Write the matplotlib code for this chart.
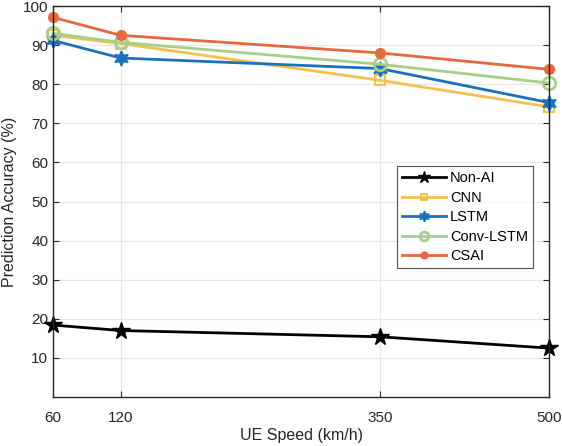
import matplotlib
matplotlib.use("Agg")
import matplotlib.pyplot as plt

plt.rcParams["font.family"] = ["Liberation Sans", "DejaVu Sans"]

# Data
speeds = [60, 120, 350, 500]
non_ai = [18.4, 17.0, 15.4, 12.5]
cnn = [92.5, 90.4, 81.0, 74.2]
lstm = [91.2, 86.7, 84.0, 75.3]
conv_lstm = [93.0, 90.7, 85.1, 80.3]
csai = [97.1, 92.5, 88.0, 83.8]

x_ticks = [60, 120, 350, 500]
y_ticks = [10, 20, 30, 40, 50, 60, 70, 80, 90, 100]

fig = plt.figure(figsize=(5.62, 4.46), dpi=100)
ax = fig.add_axes([53 / 562, 49 / 446, 496 / 562, 391 / 446])

# Series drawn in legend order
ax.plot(speeds, non_ai, color="black", lw=2, marker="*", ms=13,
        markerfacecolor="black", label="Non-AI", clip_on=False)
ax.plot(speeds, cnn, color="#F2C14E", lw=2, marker="s", ms=7,
        markerfacecolor="none", mew=1.5, label="CNN", clip_on=False)
ax.plot(speeds, lstm, color="#1A72BB", lw=2, marker=(6, 1, 0), ms=11,
        markerfacecolor="#1A72BB", label="LSTM", clip_on=False)
ax.plot(speeds, conv_lstm, color="#A7CF87", lw=2, marker="o", ms=9,
        markerfacecolor="none", mew=2, label="Conv-LSTM", clip_on=False)
ax.plot(speeds, csai, color="#E5683E", lw=2, marker="o", ms=7,
        markerfacecolor="#E5683E", label="CSAI", clip_on=False)

ax.set_xlim(60, 500)
ax.set_ylim(0, 100)
ax.set_xticks(x_ticks)
ax.set_yticks(y_ticks)
ax.grid(True, color="#E6E6E6", lw=0.8)
ax.set_axisbelow(True)

for sp in ax.spines.values():
    sp.set_color("#262626")
    sp.set_linewidth(1)
ax.tick_params(direction="in", top=True, right=True, length=4,
               colors="#262626", labelsize=11, labelcolor="#262626")
ax.tick_params(axis="x", pad=10)

ax.set_xlabel("UE Speed (km/h)", fontsize=11.5, color="#262626", labelpad=2)
ax.set_ylabel("Prediction Accuracy (%)", fontsize=11.5, color="#262626")

leg = ax.legend(loc="upper left", bbox_to_anchor=(344 / 496, 231 / 391),
                fontsize=10.5, frameon=True, fancybox=False, borderpad=0.35,
                handlelength=3.0, labelspacing=0.38, handletextpad=0.3,
                borderaxespad=0, markerscale=0.7)
leg.get_frame().set_edgecolor("#262626")
leg.get_frame().set_linewidth(0.8)

fig.savefig("out.png", dpi=100)
